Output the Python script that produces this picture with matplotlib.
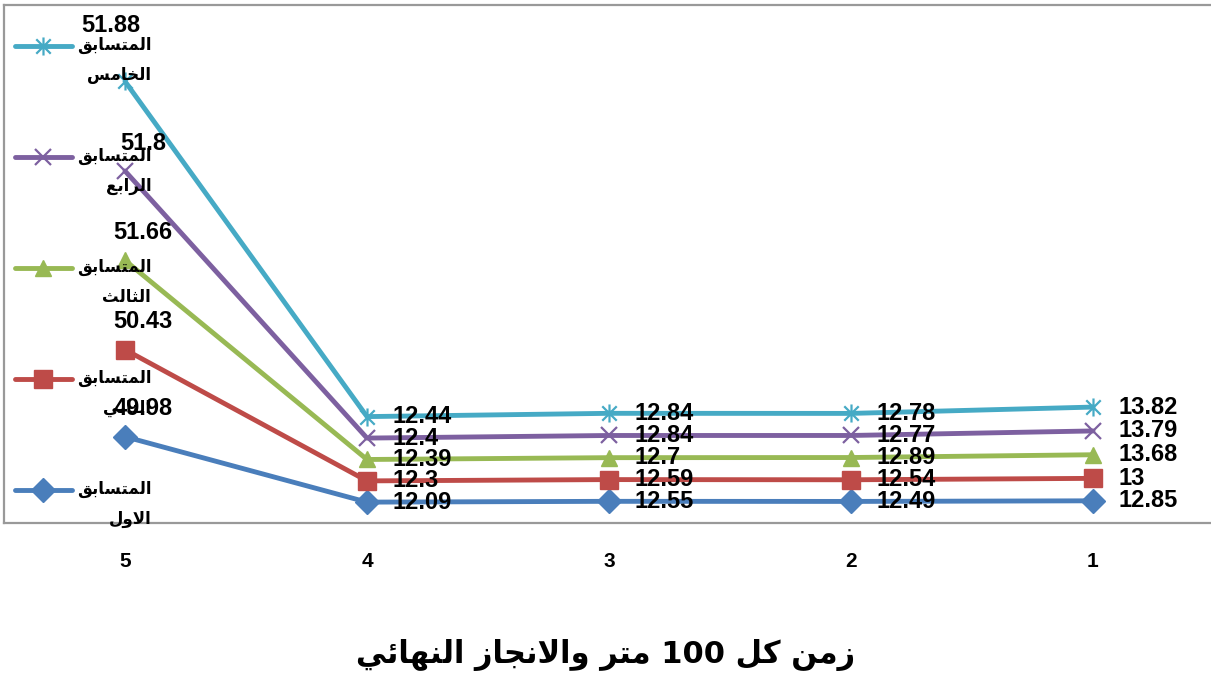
import re
import numpy as np
import matplotlib
matplotlib.use('Agg')
import matplotlib.pyplot as plt
from matplotlib.path import Path

# 数据 (类别 1..5, x 轴反向显示)
categories = ['1', '2', '3', '4', '5']
names = ['المتسابق الاول', 'المتسابق الثاني', 'المتسابق الثالث',
         'المتسابق الرابع', 'المتسابق الخامس']
first = [12.85, 12.49, 12.55, 12.09, 49.98]
second = [13, 12.54, 12.59, 12.3, 50.43]
third = [13.68, 12.89, 12.7, 12.39, 51.66]
fourth = [13.79, 12.77, 12.84, 12.4, 51.8]
fifth = [13.82, 12.78, 12.84, 12.44, 51.88]
title = 'زمن كل 100 متر والانجاز النهائي'

# 简单的阿拉伯文字形处理 (matplotlib 不做 RTL 排版)
FORMS = {  # isolated, final, initial, medial
    'ا': ('\uFE8D', '\uFE8E', None, None),
    'ب': ('\uFE8F', '\uFE90', '\uFE91', '\uFE92'),
    'ت': ('\uFE95', '\uFE96', '\uFE97', '\uFE98'),
    'ث': ('\uFE99', '\uFE9A', '\uFE9B', '\uFE9C'),
    'ج': ('\uFE9D', '\uFE9E', '\uFE9F', '\uFEA0'),
    'خ': ('\uFEA5', '\uFEA6', '\uFEA7', '\uFEA8'),
    'ر': ('\uFEAD', '\uFEAE', None, None),
    'ز': ('\uFEAF', '\uFEB0', None, None),
    'س': ('\uFEB1', '\uFEB2', '\uFEB3', '\uFEB4'),
    'ع': ('\uFEC9', '\uFECA', '\uFECB', '\uFECC'),
    'ق': ('\uFED5', '\uFED6', '\uFED7', '\uFED8'),
    'ك': ('\uFED9', '\uFEDA', '\uFEDB', '\uFEDC'),
    'ل': ('\uFEDD', '\uFEDE', '\uFEDF', '\uFEE0'),
    'م': ('\uFEE1', '\uFEE2', '\uFEE3', '\uFEE4'),
    'ن': ('\uFEE5', '\uFEE6', '\uFEE7', '\uFEE8'),
    'ه': ('\uFEE9', '\uFEEA', '\uFEEB', '\uFEEC'),
    'و': ('\uFEED', '\uFEEE', None, None),
    'ي': ('\uFEF1', '\uFEF2', '\uFEF3', '\uFEF4'),
    'ئ': ('\uFE89', '\uFE8A', '\uFE8B', '\uFE8C'),
}


def joins_next(c):
    return c in FORMS and FORMS[c][2] is not None


def ar(txt):
    out = []
    i = 0
    while i < len(txt):
        c = txt[i]
        if c not in FORMS:
            out.append(c)
            i += 1
            continue
        left = i > 0 and joins_next(txt[i - 1])
        if c == 'ل' and i + 1 < len(txt) and txt[i + 1] == 'ا':
            out.append('\uFEFC' if left else '\uFEFB')
            i += 2
            continue
        right = joins_next(c) and i + 1 < len(txt) and txt[i + 1] in FORMS
        iso, fin, ini, med = FORMS[c]
        out.append(med if left and right else fin if left else ini if right else iso)
        i += 1
    vis = ''.join(reversed(out))
    return re.sub(r'[0-9.]+', lambda m: m.group(0)[::-1], vis)


series = [first, second, third, fourth, fifth]
colors = ['#4A7EBB', '#BE4B48', '#98B954', '#7D60A0', '#46AAC5']
star = Path([(0, -1), (0, 1), (-0.8, -0.8), (0.8, 0.8), (-0.8, 0.8), (0.8, -0.8)],
            [Path.MOVETO, Path.LINETO] * 3)
markers = ['D', 's', '^', 'x', star]
msizes = [12, 13, 12, 12, 13]
num_font = ['Liberation Sans', 'DejaVu Sans']

W, H = 1211, 680
fig = plt.figure(figsize=(W / 100, H / 100), dpi=100)
ax = fig.add_axes([4 / W, (H - 523) / H, 1210 / W, 518 / H])

x = np.arange(len(categories))
stacked = np.cumsum(np.array(series), axis=0)

lines = []
for k in range(len(series)):
    ln, = ax.plot(x, stacked[k], color=colors[k], lw=3.5, marker=markers[k],
                  ms=msizes[k], mew=1.6 if k >= 3 else 1, mec=colors[k], mfc=colors[k],
                  label='\n' + ar('المتسابق') + '\n' + ar(names[k].split(' ')[1]),
                  solid_capstyle='round', zorder=3)
    lines.append(ln)
    for j in range(len(categories)):
        if j == len(categories) - 1:
            off = (-10, 40) if k == 4 else (13, 20)
            ha, va = 'center', 'center'
        else:
            off = (18, 0)
            ha, va = 'left', 'center'
        ax.annotate(f'{series[k][j]:g}', (x[j], stacked[k][j]), xytext=off,
                    textcoords='offset points', ha=ha, va=va,
                    fontsize=17, fontweight='bold', family=num_font,
                    color='black', zorder=4)

ax.set_xlim(-0.5, len(categories) - 0.5)
ax.invert_xaxis()
ax.set_ylim(0, 300)
ax.set_yticks([])
ax.set_xticks(x)
ax.set_xticklabels(categories, fontsize=15, fontweight='bold', family=num_font)
ax.tick_params(axis='x', length=0, pad=21)
for s in ['left', 'top', 'bottom']:
    ax.spines[s].set_color('#999999')
    ax.spines[s].set_linewidth(1.6)
ax.spines['right'].set_visible(False)

# 图例 (反向顺序)
leg = fig.legend(lines[::-1], [l.get_label() for l in lines[::-1]],
                 loc='upper left', bbox_to_anchor=(15 / W, 1 - 6 / H),
                 frameon=False, handlelength=3.4, handletextpad=0.3,
                 labelspacing=1.98, borderpad=0, borderaxespad=0,
                 prop={'family': ['DejaVu Sans'], 'weight': 'bold', 'size': 12})
for t in leg.get_texts():
    t.set_multialignment('right')
    t.set_linespacing(1.85)

fig.text(0.5, (H - 655) / H, ar(title), ha='center', va='center',
         fontsize=22, fontweight='bold', family=['DejaVu Sans'])

fig.savefig('out.png', dpi=100)
